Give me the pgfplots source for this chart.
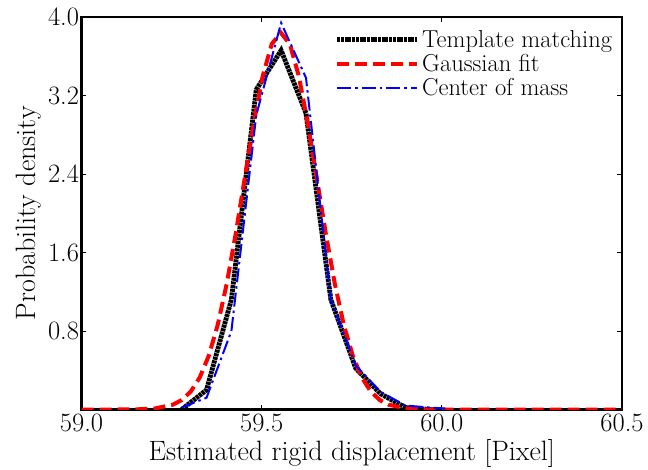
\documentclass[border=0pt]{standalone}
\usepackage{fontspec}
\setmainfont{Latin Modern Roman}
\usepackage{pgfplots}
\pgfplotsset{compat=1.18}
\begin{document}
\begin{tikzpicture}[font=\fontsize{26.5bp}{30bp}\selectfont]
\begin{axis}[
  name=ax,
  scale only axis,
  width=540.5bp, height=392.5bp,
  xmin=59.0, xmax=60.5, ymin=0, ymax=4.0,
  xtick={59.0,59.5,60.0,60.5},
  ytick={0.8,1.6,2.4,3.2,4.0},
  xticklabel style={yshift=-1bp, /pgf/number format/.cd,fixed,fixed zerofill,precision=1},
  yticklabel style={xshift=1bp, /pgf/number format/.cd,fixed,fixed zerofill,precision=1},
  /pgf/number format/assume math mode=true,
  tick label style={font=\fontsize{26.5bp}{30bp}\selectfont},
  label style={font=\fontsize{28bp}{32bp}\selectfont},
  tick align=inside, tick pos=both,
  major tick length=5bp,
  every tick/.style={black, line width=0.8bp},
  axis line style={line width=2.2bp},
  xlabel={Estimated rigid displacement [Pixel]},
  ylabel={Probability density},
  xlabel style={yshift=-1bp},
  ylabel style={yshift=0bp},
  legend cell align=left,
  legend style={draw=none, fill=none, font=\fontsize{24.5bp}{28bp}\selectfont,
    at={(0.463,0.978)}, anchor=north west,
    row sep=0.5bp, nodes={inner sep=2.5bp}},
  legend image code/.code={\draw[#1] (0bp,0bp) -- (60bp,0bp); \path (0bp,0bp) -- (80bp,0bp);},
]
\addplot[black, line width=4.8bp, dash pattern=on 3bp off 0.7bp] coordinates {
(59.278,0.0) (59.347,0.20) (59.416,1.12) (59.485,3.26) (59.554,3.66)
(59.623,3.02) (59.692,1.12) (59.761,0.42) (59.830,0.16) (59.899,0.02)
(59.968,0.0) (60.0,0.0)
};
\addlegendentry{Template matching}
\addplot[red, line width=4bp, dash pattern=on 12bp off 6bp] coordinates {
(59.0,0) (59.1,0.0) (59.153,0.0016) (59.203,0.0098) (59.253,0.048)
(59.278,0.096) (59.303,0.182) (59.328,0.325) (59.353,0.546) (59.378,0.862)
(59.403,1.281) (59.428,1.792) (59.453,2.358) (59.478,2.918) (59.503,3.399)
(59.528,3.725) (59.553,3.84) (59.578,3.725) (59.603,3.399) (59.628,2.918)
(59.653,2.358) (59.678,1.792) (59.703,1.281) (59.728,0.862) (59.753,0.546)
(59.778,0.325) (59.803,0.182) (59.828,0.096) (59.853,0.048) (59.903,0.0098)
(59.953,0.0016) (60.0,0) (60.5,0)
};
\addlegendentry{Gaussian fit}
\addplot[blue, line width=2bp, dash pattern=on 14bp off 4bp on 2.5bp off 4bp] coordinates {
(59.278,0.02) (59.347,0.12) (59.416,0.80) (59.485,3.00) (59.554,3.94)
(59.623,3.38) (59.692,1.12) (59.761,0.45) (59.830,0.18) (59.899,0.04)
(59.968,0.02) (60.01,0.01)
};
\addlegendentry{Center of mass}
\end{axis}
\pgfresetboundingbox
\path[use as bounding box] ([shift={(-81.5bp,-60.5bp)}]ax.south west) rectangle ([shift={(26bp,17bp)}]ax.north east);
\end{tikzpicture}
\end{document}
